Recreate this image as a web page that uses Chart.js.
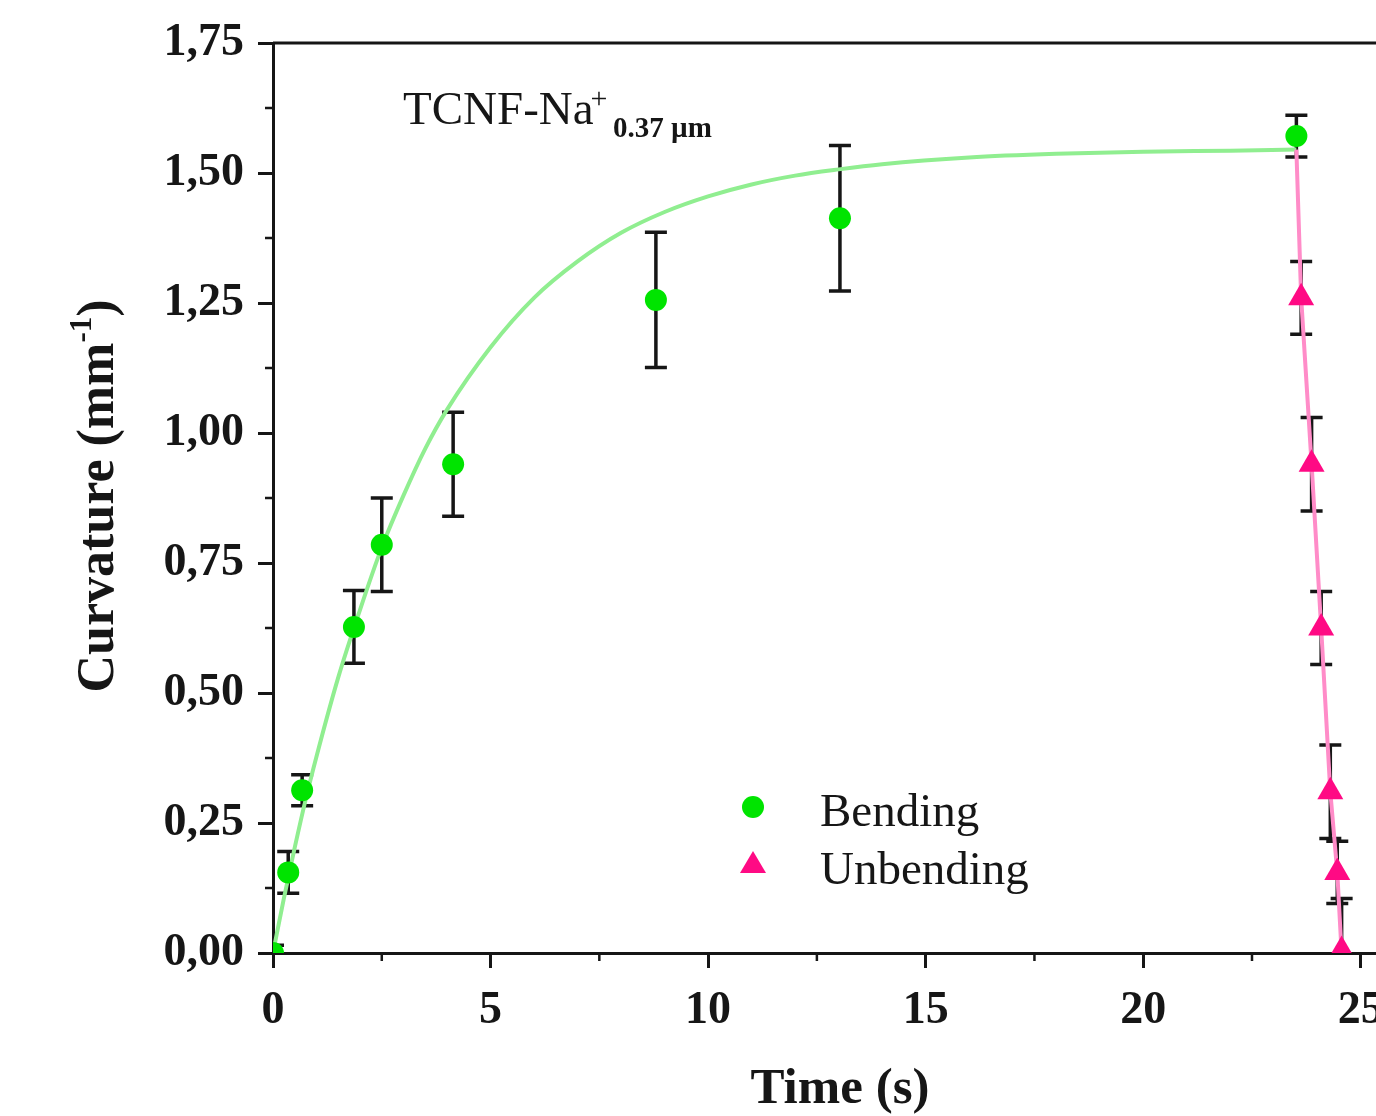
<!DOCTYPE html>
<html>
<head>
<meta charset="utf-8">
<script src="https://cdn.jsdelivr.net/npm/chart.js@4.4.0/dist/chart.umd.min.js"></script>
<style>
  html, body { margin: 0; padding: 0; background: #fff; }
  #chart1 { display: block; }
</style>
</head>
<body>
<canvas id="chart1" width="1376" height="1116"></canvas>
<script>
// values
const bendTime = [0, 0.35, 0.67, 1.86, 2.5, 4.14, 8.8, 13.03, 23.52];
const bendCurv = [0, 0.155, 0.313, 0.627, 0.785, 0.94, 1.256, 1.413, 1.571];
const bendErr  = [0.015, 0.04, 0.03, 0.07, 0.09, 0.1, 0.13, 0.14, 0.04];

const unbendTime = [23.63, 23.87, 24.09, 24.3, 24.46, 24.56];
const unbendCurv = [1.26, 0.94, 0.625, 0.31, 0.155, 0.005];
const unbendErr  = [0.07, 0.09, 0.07, 0.09, 0.06, 0.1];

// fitted curve and the unbending line
const fitTime = [0, 0.25, 0.5, 0.75, 1, 1.5, 2, 2.5, 3, 3.5, 4, 5, 6, 7, 8, 9, 10, 11, 12, 13, 14, 16, 18, 20, 22, 23.52];
const fitCurv = [0, 0.105, 0.203, 0.295, 0.378, 0.53, 0.66, 0.78, 0.88, 0.97, 1.045, 1.165, 1.26, 1.33, 1.385, 1.425, 1.455, 1.478, 1.495, 1.507, 1.517, 1.53, 1.537, 1.541, 1.543, 1.545];
const unbendLineTime = [23.52, 23.63, 23.87, 24.09, 24.3, 24.46, 24.56];
const unbendLineCurv = [1.545, 1.26, 0.94, 0.625, 0.31, 0.155, 0];

const xTicks = [0, 5, 10, 15, 20, 25];
const yTicks = [0, 0.25, 0.5, 0.75, 1, 1.25, 1.5, 1.75];

const toPoints = (xs, ys) => xs.map((x, i) => ({ x: x, y: ys[i] }));
const SERIF = '"Liberation Serif", "Times New Roman", serif';
const INK = '#161616';
const GREEN = '#00e400';
const PINK = '#ff0a84';

Chart.defaults.font.family = SERIF;
Chart.defaults.color = INK;

const decor = {
  id: 'decor',
  beforeDatasetsDraw(chart) {
    const ctx = chart.ctx, xs = chart.scales.x, ys = chart.scales.y, a = chart.chartArea;
    ctx.save();
    ctx.beginPath();
    ctx.rect(a.left, a.top, a.right - a.left, a.bottom - a.top);
    ctx.clip();
    ctx.strokeStyle = INK;
    ctx.lineWidth = 3.5;
    const bars = (tx, cy, er) => tx.forEach((t, i) => {
      const px = xs.getPixelForValue(t);
      const top = ys.getPixelForValue(cy[i] + er[i]);
      const bot = ys.getPixelForValue(cy[i] - er[i]);
      ctx.beginPath();
      ctx.moveTo(px, top); ctx.lineTo(px, bot);
      ctx.moveTo(px - 11, top); ctx.lineTo(px + 11, top);
      ctx.moveTo(px - 11, bot); ctx.lineTo(px + 11, bot);
      ctx.stroke();
    });
    bars(bendTime, bendCurv, bendErr);
    bars(unbendTime, unbendCurv, unbendErr);
    ctx.restore();
  },
  afterDraw(chart) {
    const ctx = chart.ctx, xs = chart.scales.x, ys = chart.scales.y, a = chart.chartArea;
    ctx.save();
    ctx.strokeStyle = INK;
    ctx.lineWidth = 3;
    // top frame line
    ctx.beginPath();
    ctx.moveTo(a.left, a.top); ctx.lineTo(a.right, a.top);
    ctx.stroke();
    // minor ticks
    ctx.lineWidth = 2.5;
    ctx.beginPath();
    for (let t = 2.5; t < 25.3; t += 5) {
      const px = xs.getPixelForValue(t);
      ctx.moveTo(px, a.bottom); ctx.lineTo(px, a.bottom + 8);
    }
    for (let v = 0.125; v < 1.75; v += 0.25) {
      const py = ys.getPixelForValue(v);
      ctx.moveTo(a.left, py); ctx.lineTo(a.left - 8, py);
    }
    ctx.stroke();

    ctx.fillStyle = INK;
    ctx.textBaseline = 'alphabetic';

    // x title
    ctx.font = 'bold 51px ' + SERIF;
    ctx.textAlign = 'center';
    ctx.fillText('Time (s)', 840, 1103);

    // y title with superscript
    ctx.save();
    ctx.translate(113, 496);
    ctx.rotate(-Math.PI / 2);
    const f1 = 'bold 52px ' + SERIF, f2 = 'bold 31px ' + SERIF;
    ctx.font = f1; const wa = ctx.measureText('Curvature (mm').width;
    ctx.font = f2; const wb = ctx.measureText('-1').width;
    ctx.font = f1; const wc = ctx.measureText(')').width;
    const x0 = -(wa + wb + wc) / 2;
    ctx.textAlign = 'left';
    ctx.fillText('Curvature (mm', x0, 0);
    ctx.font = f2; ctx.fillText('-1', x0 + wa, -22);
    ctx.font = f1; ctx.fillText(')', x0 + wa + wb, 0);
    ctx.restore();

    // sample label
    ctx.textAlign = 'left';
    ctx.font = '47px ' + SERIF;
    ctx.fillText('TCNF-Na', 403, 124);
    const wn = ctx.measureText('TCNF-Na').width;
    ctx.font = '30px ' + SERIF;
    ctx.fillText('+', 403 + wn - 3, 108);
    ctx.font = 'bold 29px ' + SERIF;
    ctx.fillText('0.37 \u00b5m', 613, 137);

    // legend
    ctx.fillStyle = GREEN;
    ctx.beginPath(); ctx.arc(753, 807, 11, 0, Math.PI * 2); ctx.fill();
    ctx.fillStyle = PINK;
    ctx.beginPath();
    ctx.moveTo(753, 851); ctx.lineTo(766, 873); ctx.lineTo(740, 873); ctx.closePath();
    ctx.fill();
    ctx.fillStyle = INK;
    ctx.font = '47px ' + SERIF;
    ctx.fillText('Bending', 820, 826);
    ctx.fillText('Unbending', 820, 884);
    ctx.restore();
  }
};

renderChart();

function renderChart() {
  const ctx1 = document.getElementById('chart1');

  new Chart(ctx1, {
    type: 'scatter',
    data: {
      datasets: [{
        label: 'Bending',
        data: toPoints(bendTime, bendCurv),
        pointStyle: 'circle',
        pointRadius: 11,
        backgroundColor: GREEN,
        borderWidth: 0,
        clip: 0,
        order: 1
      }, {
        label: 'Unbending',
        data: toPoints(unbendTime, unbendCurv),
        pointStyle: 'triangle',
        pointRadius: 15,
        backgroundColor: PINK,
        borderWidth: 0,
        clip: 0,
        order: 1
      }, {
        label: 'fit',
        data: toPoints(fitTime, fitCurv),
        showLine: true,
        pointRadius: 0,
        borderColor: '#90ee90',
        borderWidth: 4,
        tension: 0.4,
        cubicInterpolationMode: 'monotone',
        clip: 0,
        order: 3
      }, {
        label: 'unbend line',
        data: toPoints(unbendLineTime, unbendLineCurv),
        showLine: true,
        pointRadius: 0,
        borderColor: '#ff8cc8',
        borderWidth: 4,
        clip: 0,
        order: 2
      }]
    },
    options: {
      responsive: false,
      animation: false,
      events: [],
      layout: { autoPadding: false, padding: { top: 43, left: 0, right: 0, bottom: 0 } },
      plugins: { legend: { display: false }, tooltip: { enabled: false } },
      scales: {
        x: {
          type: 'linear',
          min: 0,
          max: 25.35,
          afterBuildTicks: s => { s.ticks = xTicks.map(v => ({ value: v })); },
          ticks: {
            padding: 16,
            autoSkip: false,
            maxRotation: 0,
            color: INK,
            font: { size: 46, weight: 'bold' },
            callback: v => String(v)
          },
          grid: { drawOnChartArea: false, drawTicks: true, tickLength: 15, tickWidth: 3, color: INK },
          border: { display: true, color: INK, width: 3 },
          afterFit: s => { s.height = 163; s.paddingLeft = 0; s.paddingRight = 0; }
        },
        y: {
          type: 'linear',
          min: 0,
          max: 1.75,
          afterBuildTicks: s => { s.ticks = yTicks.map(v => ({ value: v })); },
          ticks: {
            padding: 14,
            autoSkip: false,
            color: INK,
            font: { size: 46, weight: 'bold' },
            callback: v => v.toFixed(2).replace('.', ',')
          },
          grid: { drawOnChartArea: false, drawTicks: true, tickLength: 15, tickWidth: 3, color: INK },
          border: { display: true, color: INK, width: 3 },
          afterFit: s => { s.width = 273; s.paddingTop = 0; s.paddingBottom = 0; }
        }
      }
    },
    plugins: [decor]
  });
}
</script>
</body>
</html>
